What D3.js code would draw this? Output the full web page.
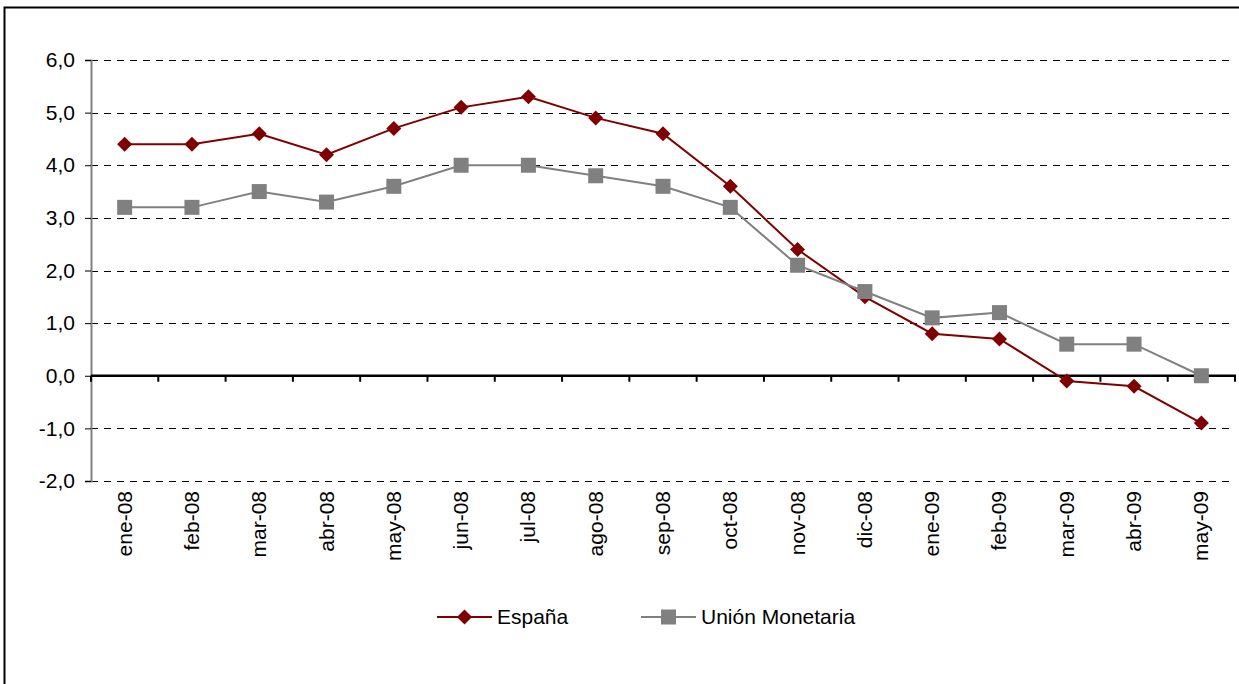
<!DOCTYPE html>
<html lang="es">
<head>
<meta charset="UTF-8">
<title>España vs Unión Monetaria</title>
<script src="https://d3js.org/d3.v7.min.js"></script>
<style>
    body { margin: 0; background: #fff; }
    svg { display: block; font-family: Arial, "Liberation Sans", sans-serif; }
    .grid line { stroke: #000; stroke-width: 1; stroke-dasharray: 7,6; }
    .lbl { font-size: 21px; fill: #000; }
</style>
</head>
<body>
<svg width="1239" height="684"></svg>
<script>
    // months and series values
    const months = ["ene-08","feb-08","mar-08","abr-08","may-08","jun-08","jul-08","ago-08","sep-08",
                    "oct-08","nov-08","dic-08","ene-09","feb-09","mar-09","abr-09","may-09"];
    const espana = [4.4, 4.4, 4.6, 4.2, 4.7, 5.1, 5.3, 4.9, 4.6, 3.6, 2.4, 1.5, 0.8, 0.7, -0.1, -0.2, -0.9];
    const union  = [3.2, 3.2, 3.5, 3.3, 3.6, 4.0, 4.0, 3.8, 3.6, 3.2, 2.1, 1.6, 1.1, 1.2, 0.6, 0.6, 0.0];
    const yTicks = [-2, -1, 0, 1, 2, 3, 4, 5, 6];

    const series = [
        { name: "España", values: espana, color: "#800000", marker: "diamond" },
        { name: "Unión Monetaria", values: union, color: "#808080", marker: "square" }
    ];

    const svg = d3.select("svg");
    const plotL = 91, plotR = 1235, plotT = 60, plotB = 481;

    // outer frame (right/bottom edges fall outside the picture)
    svg.append("rect")
        .attr("x", 4.5).attr("y", 7.5)
        .attr("width", 1300).attr("height", 1000)
        .attr("fill", "none").attr("stroke", "#000").attr("stroke-width", 2);

    const x = d3.scaleBand().domain(months).range([plotL, plotR]);
    const y = d3.scaleLinear().domain([-2, 6]).range([plotB, plotT]);
    const fmt = v => v.toFixed(1).replace(".", ",");

    // dashed gridlines
    svg.append("g").attr("class", "grid")
        .selectAll("line")
        .data(yTicks.filter(d => d !== 0))
        .join("line")
        .attr("x1", plotL).attr("x2", plotR)
        .attr("y1", d => Math.round(y(d)) + 0.5).attr("y2", d => Math.round(y(d)) + 0.5);

    // y axis
    const yAxis = svg.append("g").attr("transform", `translate(${plotL},0)`)
        .call(d3.axisLeft(y).tickValues(yTicks).tickFormat(fmt).tickSize(6).tickPadding(10));
    yAxis.attr("font-size", null).attr("font-family", null);
    yAxis.select(".domain").attr("stroke", "#808080").attr("stroke-width", 2);
    yAxis.selectAll(".tick line").attr("stroke", "#000");
    yAxis.selectAll(".tick text").attr("class", "lbl");

    // zero line with category ticks
    const y0 = y(0);
    svg.append("line")
        .attr("x1", plotL).attr("x2", plotR + 1)
        .attr("y1", y0).attr("y2", y0)
        .attr("stroke", "#000").attr("stroke-width", 2.5);
    const bounds = months.map(m => x(m)).concat([plotR]);
    svg.append("g").selectAll("line")
        .data(bounds)
        .join("line")
        .attr("x1", d => d).attr("x2", d => d)
        .attr("y1", y0).attr("y2", y0 + 6)
        .attr("stroke", "#000").attr("stroke-width", 2);

    // category labels, rotated
    svg.append("g").selectAll("text")
        .data(months)
        .join("text")
        .attr("class", "lbl")
        .attr("text-anchor", "end")
        .attr("transform", d => `translate(${x(d) + x.bandwidth() / 2 + 7},${plotB + 10}) rotate(-90)`)
        .text(d => d);

    const cx = (d, i) => x(months[i]) + x.bandwidth() / 2;
    const line = d3.line().x(cx).y(d => y(d));

    function drawMarker(g, type, color) {
        if (type === "diamond") {
            g.append("path").attr("d", "M0,-7.5L7.5,0L0,7.5L-7.5,0Z").attr("fill", color);
        } else {
            g.append("rect").attr("x", -7.5).attr("y", -7.5).attr("width", 15).attr("height", 15).attr("fill", color);
        }
    }

    series.forEach(s => {
        svg.append("path")
            .datum(s.values)
            .attr("fill", "none")
            .attr("stroke", s.color)
            .attr("stroke-width", 2)
            .attr("d", line);
        s.values.forEach((v, i) => {
            const g = svg.append("g").attr("transform", `translate(${cx(v, i)},${y(v)})`);
            drawMarker(g, s.marker, s.color);
        });
    });

    // legend
    const legendY = 617;
    const legendX = [437, 641];
    series.forEach((s, i) => {
        const lx = legendX[i];
        svg.append("line")
            .attr("x1", lx).attr("x2", lx + 55)
            .attr("y1", legendY).attr("y2", legendY)
            .attr("stroke", s.color).attr("stroke-width", 2);
        const g = svg.append("g").attr("transform", `translate(${lx + 27.5},${legendY})`);
        drawMarker(g, s.marker, s.color);
        svg.append("text")
            .attr("class", "lbl")
            .attr("x", lx + 60).attr("y", legendY + 7)
            .text(s.name);
    });
</script>
</body>
</html>
